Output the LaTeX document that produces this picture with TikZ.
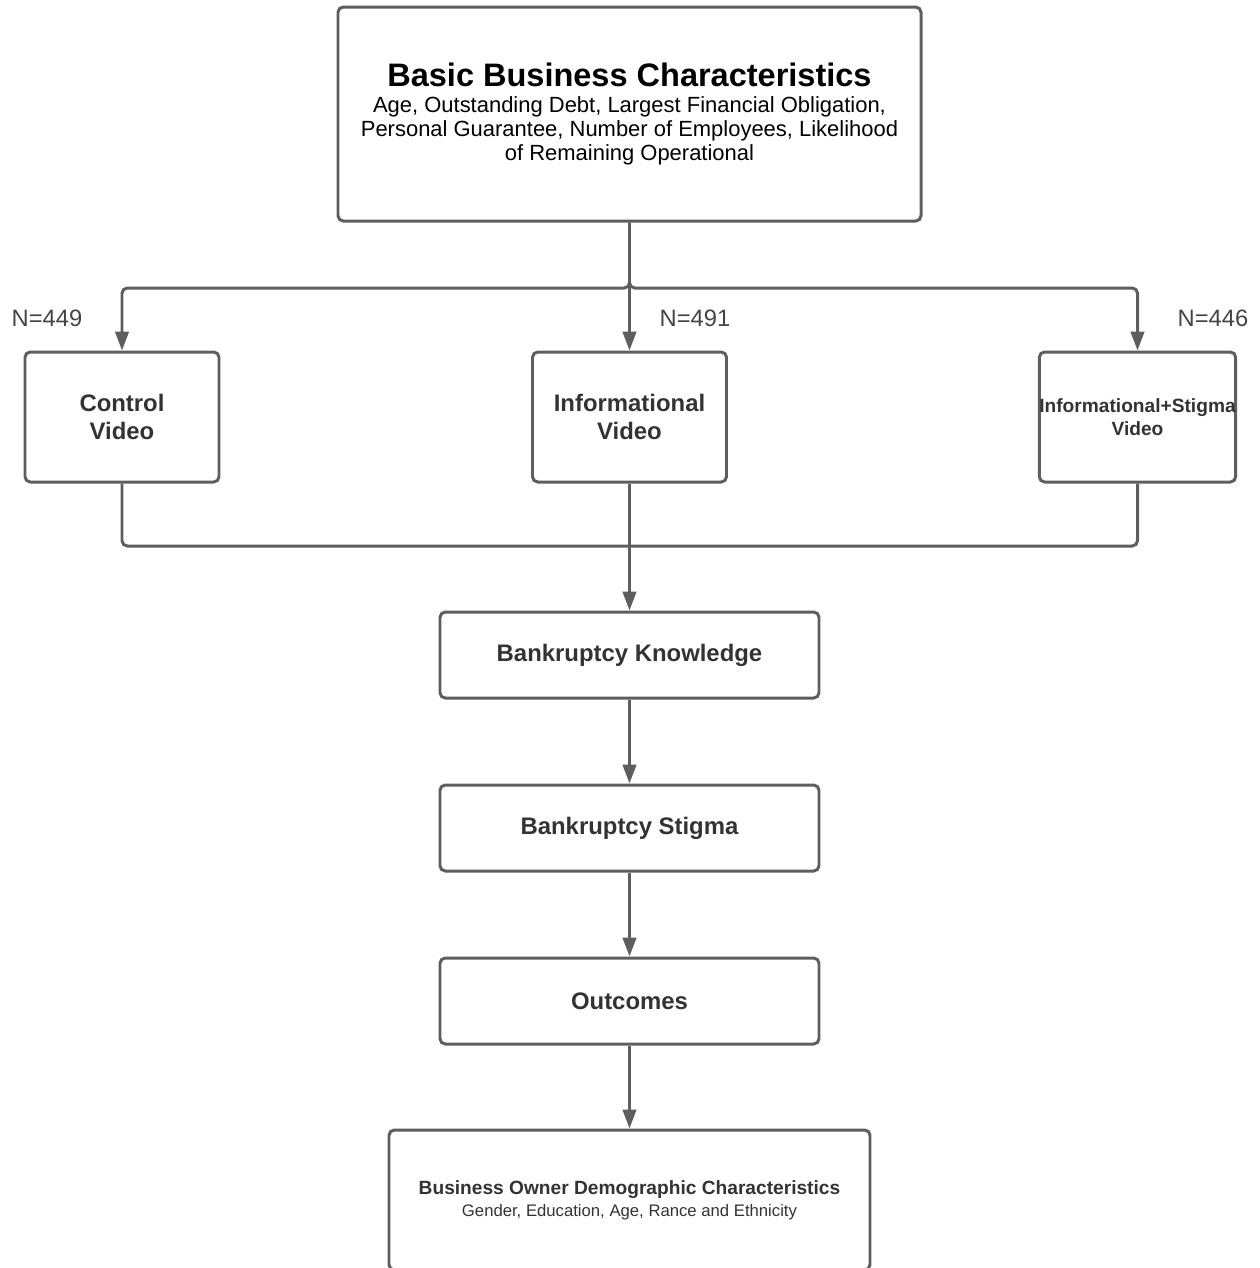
\documentclass[tikz,border=0pt]{standalone}
\usepackage{fontspec}
\setmainfont{Liberation Sans}
\usepackage{xcolor}
\usetikzlibrary{arrows.meta}
\definecolor{edge}{HTML}{5E5E5E}
\definecolor{ink}{HTML}{333333}
\definecolor{nlbl}{HTML}{444444}
\tikzset{
  box/.style={draw=edge, line width=1.7pt, rounded corners=3pt, fill=white, align=center, text=ink, inner sep=2pt},
  link/.style={draw=edge, line width=1.7pt, rounded corners=3pt, -{Triangle[length=0.38cm,width=0.27cm]}},
  joinline/.style={draw=edge, line width=1.7pt, rounded corners=3pt},
  boxLbl/.style={font=\fontsize{13.6}{16.4}\selectfont\bfseries},
  nLbl/.style={text=nlbl, font=\fontsize{13.5}{15}\selectfont},
}
\newcommand{\titlefont}{\fontsize{18.5}{21}\selectfont\bfseries}
\newcommand{\subfont}{\fontsize{12.5}{13.6}\selectfont\mdseries}
\begin{document}
\begin{tikzpicture}
  \useasboundingbox (0,0) rectangle (25.2,-25.36);

  % top box
  \node[box, minimum width=11.66cm, minimum height=4.28cm, text=black,
        font=\fontsize{12.5}{13.6}\selectfont] (basic) at (12.59,-2.28)
    {\titlefont Basic Business Characteristics\\[1.5pt]
     \subfont Age, Outstanding Debt, Largest Financial Obligation,\\
     \subfont Personal Guarantee, Number of Employees, Likelihood\\
     \subfont of Remaining Operational};

  % treatment arms
  \node[box, boxLbl, minimum width=3.88cm, minimum height=2.60cm] (ctrl) at (2.44,-8.34) {Control\\ Video};
  \node[box, boxLbl, minimum width=3.88cm, minimum height=2.60cm] (info) at (12.59,-8.34) {Informational\\ Video};
  \node[box, minimum width=3.88cm, minimum height=2.60cm, inner sep=0pt,
        font=\fontsize{10.9}{13}\selectfont\bfseries] (stig) at (22.75,-8.34) {Informational+Stigma\\ Video};

  \node[nLbl] (n1) at (0.94,-6.36) {N=449};
  \node[nLbl] (n2) at (13.90,-6.36) {N=491};
  \node[nLbl] (n3) at (24.26,-6.36) {N=446};

  % chain
  \node[box, boxLbl, minimum width=7.58cm, minimum height=1.72cm] (know) at (12.59,-13.10) {Bankruptcy Knowledge};
  \node[box, boxLbl, minimum width=7.58cm, minimum height=1.72cm] (stigma) at (12.59,-16.56) {Bankruptcy Stigma};
  \node[box, boxLbl, minimum width=7.58cm, minimum height=1.72cm] (out) at (12.59,-20.02) {Outcomes};

  \node[box, minimum width=9.62cm, minimum height=2.80cm,
        font=\fontsize{9.5}{12.4}\selectfont] (demo) at (12.59,-24.00)
    {\fontsize{10.9}{12.4}\selectfont\bfseries Business Owner Demographic Characteristics\\
     \fontsize{9.5}{12.4}\selectfont\mdseries Gender, Education, Age, Rance and Ethnicity};

  \coordinate (split) at (12.59,-5.76);
  \coordinate (merge) at (12.59,-10.92);

  \draw[link] (basic.south) -- (split) -| (ctrl.north);
  \draw[link] (basic.south) -- (info.north);
  \draw[link] (basic.south) -- (split) -| (stig.north);

  \draw[joinline] (ctrl.south) |- (merge);
  \draw[joinline] (stig.south) |- (merge);
  \draw[link] (info.south) -- (know.north);

  \draw[link] (know) -- (stigma);
  \draw[link] (stigma) -- (out);
  \draw[link] (out) -- (demo);
\end{tikzpicture}
\end{document}
